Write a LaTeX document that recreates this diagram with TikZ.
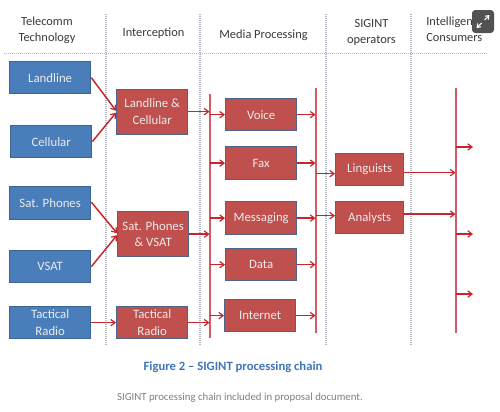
\documentclass[tikz,border=0pt]{standalone}
\usepackage{fontspec}
\setmainfont{Carlito}
\usetikzlibrary{arrows.meta,calc}
\definecolor{bluefill}{HTML}{4A7EBB}
\definecolor{blueedge}{HTML}{3A6594}
\definecolor{redfill}{HTML}{C0504D}
\definecolor{rededge}{HTML}{4F6488}
\definecolor{wire}{HTML}{C8242E}
\definecolor{buswire}{HTML}{D65A64}
\definecolor{sep}{HTML}{B4B6C4}
\definecolor{headtext}{HTML}{3A3A3A}
\definecolor{captionblue}{HTML}{3F76B8}
\tikzset{
  boxbase/.style={draw, line width=1pt, align=center, inner sep=0pt, text=white!92!black, font=\fontsize{9.6}{12.3}\selectfont, anchor=north west},
  techbox/.style={boxbase, fill=bluefill, draw=blueedge},
  procbox/.style={boxbase, fill=redfill, draw=rededge},
  link/.style={draw=wire, line width=1.1pt, -{Straight Barb[length=3.2pt,width=4.8pt,line width=0.9pt]}},
  busline/.style={fill=buswire, draw=none},
  sepline/.style={draw=sep, line width=1pt, dash pattern=on 1pt off 0.5pt},
  headlabel/.style={align=center, text=headtext, font=\fontsize{9.3}{11.8}\selectfont},
  iconarrow/.style={draw=white, line width=0.8pt, -{Straight Barb[length=2.4pt,width=3.6pt,line width=0.8pt]}},
}
\newcommand{\bx}[7]{\node[#1, minimum width=#4*0.75pt, minimum height=#5*0.75pt] (#2) at (#3) {#6};}
\begin{document}
\begin{tikzpicture}[x=0.75pt,y=-0.75pt]
\useasboundingbox (0,0) rectangle (500,411);
\fill[white] (0,0) rectangle (500,411);
% separators
\coordinate (hl) at (4,53.5); \coordinate (hr) at (488,53.5);
\draw[sepline] (hl) -- (hr);
\foreach \x in {106,200,326,411} {\draw[sepline] (\x,14) -- (\x,345);}
% headers
\node[headlabel] (h1) at (47,30.5) {Telecomm\\Technology};
\node[headlabel] (h2) at (153.5,33.5) {Interception};
\node[headlabel] (h3) at (263.5,35.5) {Media Processing};
\node[headlabel] (h4) at (371.5,32.5) {SIGINT\\operators};
\node[headlabel, align=left, anchor=north west, inner sep=0pt] (h5) at (426,17) {Intelligence\\Consumers};
% technology boxes
\bx{techbox}{land}{9,61}{81}{32}{Landline}{}
\bx{techbox}{cell}{10,125}{81}{32}{Cellular}{}
\bx{techbox}{sat}{9,186}{81}{33}{Sat. Phones}{}
\bx{techbox}{vsat}{9,250}{81}{32}{VSAT}{}
\bx{techbox}{tac}{9,306}{81}{32}{Tactical\\Radio}{}
% interception boxes
\bx{procbox}{ilc}{116,88.5}{71}{45}{Landline \&\\Cellular}{}
\bx{procbox}{isv}{117,211}{71}{45}{Sat. Phones\\\& VSAT}{}
\bx{procbox}{itr}{116,306}{71}{32}{Tactical\\Radio}{}
% media boxes
\bx{procbox}{voice}{225,98}{71}{32}{Voice}{}
\bx{procbox}{fax}{225,146}{71}{33}{Fax}{}
\bx{procbox}{msg}{225,201}{71}{33}{Messaging}{}
\bx{procbox}{data}{225,248}{71}{32}{Data}{}
\bx{procbox}{inet}{224,299}{71}{32}{Internet}{}
% operators
\bx{procbox}{ling}{335,153}{68}{32}{Linguists}{}
\bx{procbox}{anal}{335,201}{68}{32}{Analysts}{}
% buses
\coordinate (b1t) at (209.5,94); \coordinate (b1b) at (209.5,338);
\coordinate (b2t) at (315.5,88); \coordinate (b2b) at (315.5,333);
\coordinate (b3t) at (455.5,88); \coordinate (b3b) at (455.5,333);
\path[busline] ($(b1t)+(-1,0)$) rectangle ($(b1b)+(1,0)$);
\path[busline] ($(b2t)+(-1,0)$) rectangle ($(b2b)+(1,0)$);
\path[busline] ($(b3t)+(-1,0)$) rectangle ($(b3b)+(1,0)$);
% technology to interception
\draw[link] (land.east) -- ($(ilc.west)+(0,-1)$);
\draw[link] (cell.east) -- ($(ilc.west)+(0,1)$);
\draw[link] ($(sat.east)+(0,-1)$) -- ($(isv.west)+(0,-1)$);
\draw[link] (vsat.east) -- ($(isv.west)+(0,1)$);
\draw[link] (tac.east) -- (itr.west);
% interception to first bus
\draw[link] (ilc.east) -- (b1t |- ilc.east);
\draw[link] (isv.east) -- (b1t |- isv.east);
\draw[link] (itr.east) -- (b1t |- itr.east);
% first bus to media
\foreach \n in {voice,fax,msg,data,inet} {
  \draw[link] (b1t |- \n.west) -- (\n.west);
  \draw[link] (\n.east) -- (b2t |- \n.east);
}
% second bus to operators
\coordinate (li) at ($(ling.west)+(0,4)$);
\coordinate (ai) at ($(anal.west)+(0,-2)$);
\draw[link] (b2t |- li) -- (li);
\draw[link] (b2t |- ai) -- (ai);
% operators to third bus
\coordinate (lo) at ($(ling.east)+(0,3)$);
\coordinate (ao) at ($(anal.east)+(0,-3.6)$);
\draw[link] (lo) -- (b3t |- lo);
\draw[link] (ao) -- (b3t |- ao);
% free outgoing arrows
\coordinate (o1) at (473,147); \coordinate (o2) at (473,234); \coordinate (o3) at (473,294);
\draw[link] (b3t |- o1) -- (o1);
\draw[link] (b3t |- o2) -- (o2);
\draw[link] (b3t |- o3) -- (o3);
% caption
\node[text=captionblue, font=\fontsize{9.5}{12}\selectfont\bfseries] (cap) at (233,367) {Figure 2 – SIGINT processing chain};
\node[text=black!50, font=\fontsize{8.1}{10}\selectfont] (sub) at (240,398) {SIGINT processing chain included in proposal document.};
% expand icon
\fill[black!68, rounded corners=2.5pt] (472,10) rectangle (494,33);
\coordinate (ic) at (483,21.5);
\draw[iconarrow] ($(ic)+(1.5,-1.5)$) -- ($(ic)+(6.5,-6.5)$);
\draw[iconarrow] ($(ic)+(-1.5,1.5)$) -- ($(ic)+(-6.5,6.5)$);
\end{tikzpicture}
\end{document}
